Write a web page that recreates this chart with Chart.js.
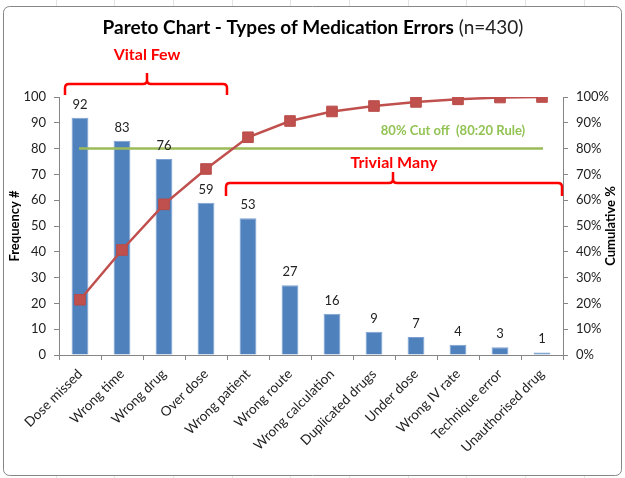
<!DOCTYPE html>
<html><head><meta charset="utf-8">
<script src="https://cdn.jsdelivr.net/npm/chart.js@4/dist/chart.umd.min.js"></script>
<style>html,body{margin:0;padding:0;background:#fff;overflow:hidden;}</style>
</head><body><canvas id="c" width="625" height="478"></canvas>
<script>
const categories = ["Dose missed","Wrong time","Wrong drug","Over dose","Wrong patient","Wrong route","Wrong calculation","Duplicated drugs","Under dose","Wrong IV rate","Technique error","Unauthorised drug"];
const frequency = [92,83,76,59,53,27,16,9,7,4,3,1];
const cumulativePct = [21.4,40.7,58.4,72.1,84.4,90.7,94.4,96.5,98.1,99.1,99.8,100];
const cutoffPct = 80;
const titleBold = "Pareto Chart - Types of Medication Errors";
const titleNormal = " (n=430)";
const cutoffLabel = "80% Cut off  (80:20 Rule)";
const vitalLabel = "Vital Few";
const trivialLabel = "Trivial Many";
const leftAxisTitle = "Frequency #";
const rightAxisTitle = "Cumulative %";

const FONT = "Lato, 'Open Sans', sans-serif";
const RED = "#FF0000";

function bracket(ctx, x1, x2, yTop, yEnd, xTip, yTip) {
  const r = 4;
  ctx.beginPath();
  ctx.moveTo(x1, yEnd);
  ctx.lineTo(x1, yTop + r);
  ctx.quadraticCurveTo(x1, yTop, x1 + r, yTop);
  ctx.lineTo(xTip - r, yTop);
  ctx.quadraticCurveTo(xTip, yTop, xTip, yTop - r);
  ctx.lineTo(xTip, yTip);
  ctx.moveTo(xTip, yTop - r);
  ctx.quadraticCurveTo(xTip, yTop, xTip + r, yTop);
  ctx.lineTo(x2 - r, yTop);
  ctx.quadraticCurveTo(x2, yTop, x2, yTop + r);
  ctx.lineTo(x2, yEnd);
  ctx.stroke();
}

const deco = {
  id: 'deco',
  beforeDraw(chart) {
    const ctx = chart.ctx;
    ctx.save();
    ctx.fillStyle = '#fff';
    ctx.fillRect(0, 0, chart.width, chart.height);
    ctx.strokeStyle = '#e3e3e3';
    ctx.lineWidth = 1;
    for (let x = 55.5; x < 625; x += 58.7) {
      ctx.beginPath(); ctx.moveTo(Math.round(x) + 0.5, 0); ctx.lineTo(Math.round(x) + 0.5, 478); ctx.stroke();
    }
    ctx.fillStyle = '#fff';
    ctx.beginPath();
    ctx.roundRect(3.5, 6.5, 618, 469, 6);
    ctx.fill();
    ctx.strokeStyle = '#868686';
    ctx.stroke();
    ctx.restore();
  },
  beforeDatasetDraw(chart, args) {
    if (args.index !== 1) return;
    const ctx = chart.ctx;
    const xs = chart.scales.x, y1 = chart.scales.y1;
    const y = y1.getPixelForValue(cutoffPct);
    ctx.save();
    ctx.strokeStyle = '#9BBB59';
    ctx.lineWidth = 2.5;
    ctx.beginPath();
    ctx.moveTo(xs.getPixelForValue(0) - 1, y);
    ctx.lineTo(xs.getPixelForValue(categories.length - 1) + 1, y);
    ctx.stroke();
    ctx.restore();
  },
  afterDatasetsDraw(chart) {
    const ctx = chart.ctx;
    const meta = chart.getDatasetMeta(0);
    ctx.save();
    ctx.fillStyle = '#222';
    ctx.font = "13px " + FONT;
    ctx.textAlign = 'center';
    ctx.textBaseline = 'alphabetic';
    meta.data.forEach((bar, i) => {
      ctx.fillText(String(frequency[i]), bar.x, bar.y - 9);
    });
    ctx.restore();
  },
  afterDraw(chart) {
    const ctx = chart.ctx;
    const xs = chart.scales.x, ca = chart.chartArea;
    ctx.save();
    // title
    ctx.textBaseline = 'middle';
    ctx.fillStyle = '#000';
    ctx.font = "bold 19px " + FONT;
    const wb = ctx.measureText(titleBold).width;
    ctx.font = "19px " + FONT;
    const wn = ctx.measureText(titleNormal).width;
    let tx = 313 - (wb + wn) / 2;
    ctx.textAlign = 'left';
    ctx.font = "bold 19px " + FONT;
    ctx.fillText(titleBold, tx, 28);
    ctx.font = "19px " + FONT;
    ctx.fillStyle = '#222';
    ctx.fillText(titleNormal, tx + wb, 28);

    // axis titles
    ctx.fillStyle = '#000';
    ctx.font = "bold 13px " + FONT;
    ctx.textAlign = 'center';
    const cy = (ca.top + ca.bottom) / 2;
    ctx.save(); ctx.translate(15, cy); ctx.rotate(-Math.PI / 2); ctx.fillText(leftAxisTitle, 0, 0); ctx.restore();
    ctx.save(); ctx.translate(611, cy); ctx.rotate(-Math.PI / 2); ctx.fillText(rightAxisTitle, 0, 0); ctx.restore();

    // cutoff label
    ctx.fillStyle = '#92C353';
    ctx.font = "bold 13px " + FONT;
    ctx.textAlign = 'center';
    ctx.fillText(cutoffLabel, 453, 131);

    // brackets
    ctx.strokeStyle = RED;
    ctx.lineWidth = 2.5;
    const half = (xs.getPixelForValue(1) - xs.getPixelForValue(0)) / 2;
    const vx1 = xs.getPixelForValue(0) - half + 6;
    const vx2 = xs.getPixelForValue(3) + half;
    bracket(ctx, vx1, vx2, 84, 95, 147, 73);
    const tx1 = xs.getPixelForValue(4) - half - 1;
    const tx2 = xs.getPixelForValue(11) + half - 1;
    bracket(ctx, tx1, tx2, 183, 196, 393, 172);

    ctx.fillStyle = RED;
    ctx.font = "bold 16px " + FONT;
    ctx.fillText(vitalLabel, 147, 55);
    ctx.fillText(trivialLabel, 394, 163);
    ctx.restore();
  }
};

new Chart(document.getElementById('c'), {
  data: {
    labels: categories,
    datasets: [
      {
        type: 'bar', label: 'Frequency', data: frequency, yAxisID: 'y', order: 2,
        backgroundColor: '#4F81BD', borderColor: '#7DA1D4', borderWidth: 1,
        barPercentage: 0.4, categoryPercentage: 1.0
      },
      {
        type: 'line', label: 'Cumulative %', data: cumulativePct, yAxisID: 'y1', order: 1,
        borderColor: '#C0504D', borderWidth: 2.5, backgroundColor: '#C0504D',
        pointStyle: 'rect', pointRadius: 7.5, pointBorderColor: '#B84B48', pointBorderWidth: 1,
        pointBackgroundColor: '#C0504D', tension: 0, fill: false
      }
    ]
  },
  options: {
    responsive: false,
    animation: false,
    devicePixelRatio: 1,
    layout: { padding: { top: 97, left: 0, right: 0, bottom: 0 } },
    plugins: { legend: { display: false }, tooltip: { enabled: false }, title: { display: false } },
    scales: {
      x: {
        type: 'category',
        offset: true,
        grid: { offset: true, drawOnChartArea: false, color: '#868686', tickLength: 5 },
        border: { color: '#868686' },
        ticks: { color: '#222', font: { size: 13.5, family: FONT }, minRotation: 45, maxRotation: 45, autoSkip: false, padding: 6 },
        afterFit(s) { s.height = 123; }
      },
      y: {
        position: 'left', min: 0, max: 100,
        grid: { drawOnChartArea: false, color: '#868686', tickLength: 5 },
        border: { color: '#868686' },
        ticks: { stepSize: 10, color: '#222', font: { size: 13, family: FONT }, padding: 8 },
        afterFit(s) { s.width = 59; }
      },
      y1: {
        position: 'right', min: 0, max: 100,
        grid: { drawOnChartArea: false, color: '#868686', tickLength: 5 },
        border: { color: '#868686' },
        ticks: { stepSize: 10, color: '#222', font: { size: 13, family: FONT }, padding: 8, callback: v => v + '%' },
        afterFit(s) { s.width = 62; }
      }
    }
  },
  plugins: [deco]
});
</script>
</body></html>
